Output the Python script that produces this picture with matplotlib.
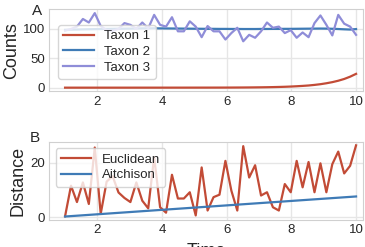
import numpy as np
import matplotlib
matplotlib.use('Agg')
import matplotlib.pyplot as plt

# sampling times
time = np.linspace(1, 10, 50)

taxon1 = [0.0, 0.0, 0.0, 0.0, 0.0, 0.0, 0.0, 0.01, 0.01, 0.01,
          0.01, 0.01, 0.02, 0.02, 0.02, 0.03, 0.03, 0.04, 0.04, 0.05,
          0.05, 0.06, 0.07, 0.08, 0.09, 0.1, 0.12, 0.15, 0.19, 0.24,
          0.3, 0.38, 0.48, 0.6, 0.75, 0.95, 1.2, 1.5, 1.9, 2.4,
          3.0, 3.7, 4.7, 5.9, 7.5, 9.4, 11.8, 14.8, 18.7, 23.5]
taxon2 = [98.5, 98.8, 99.0, 99.3, 99.5, 99.7, 99.9, 100.1, 100.2, 100.4,
          100.5, 100.6, 100.8, 101.0, 101.0, 101.1, 101.0, 100.9, 100.8, 100.7,
          100.6, 100.5, 100.4, 100.3, 100.2, 100.2, 100.1, 100.1, 100.0, 100.0,
          99.9, 99.9, 99.9, 100.0, 100.0, 100.1, 100.1, 100.2, 100.2, 100.3,
          100.4, 100.5, 100.6, 100.7, 100.6, 100.3, 99.9, 99.4, 99.0, 99.8]
taxon3 = [97, 100, 104, 117, 111, 127, 105, 98, 97, 100,
          110, 107, 100, 111, 101, 124, 107, 104, 120, 96,
          96, 113, 104, 86, 105, 96, 96, 82, 93, 102,
          79, 90, 85, 96, 111, 102, 104, 93, 98, 85,
          94, 86, 110, 123, 107, 89, 124, 109, 104, 90]

euclidean = [0.3, 11.5, 5.5, 12.7, 4.8, 25.5, 1.2, 13.0, 15.0, 9.0,
             7.0, 5.5, 12.7, 6.0, 3.2, 22.0, 3.6, 1.6, 15.5, 6.8,
             6.8, 9.1, 0.6, 18.2, 2.4, 7.3, 8.2, 20.6, 9.7, 2.4,
             26.0, 14.5, 19.0, 7.9, 9.1, 3.6, 2.4, 12.1, 9.1, 20.6,
             10.9, 20.2, 9.1, 19.7, 9.1, 19.4, 24.0, 16.0, 18.8, 26.3]
aitchison = [0.2, 0.35, 0.5, 0.65, 0.8, 0.95, 1.1, 1.25, 1.4, 1.55,
             1.7, 1.85, 2.0, 2.15, 2.3, 2.45, 2.6, 2.75, 2.9, 3.05,
             3.2, 3.35, 3.5, 3.65, 3.8, 3.95, 4.1, 4.25, 4.4, 4.55,
             4.7, 4.85, 5.0, 5.15, 5.3, 5.45, 5.6, 5.75, 5.9, 6.05,
             6.2, 6.35, 6.5, 6.65, 6.8, 6.95, 7.1, 7.25, 7.4, 7.55]

red = '#C24B36'
blue = '#3F7BB6'
purple = '#8F8DD8'

plt.rcParams['font.family'] = ['Liberation Sans', 'DejaVu Sans']
plt.rcParams['text.color'] = '.15'
plt.rcParams['axes.labelcolor'] = '.15'
plt.rcParams['xtick.color'] = '.15'
plt.rcParams['ytick.color'] = '.15'

fig = plt.figure(figsize=(3.65, 2.47), dpi=100)
ax1 = fig.add_axes([0.134, 0.630, 0.861, 0.332])
ax2 = fig.add_axes([0.134, 0.109, 0.861, 0.317])

ax1.plot(time, taxon1, color=red, lw=1.6, label='Taxon 1')
ax1.plot(time, taxon2, color=blue, lw=1.6, label='Taxon 2')
ax1.plot(time, taxon3, color=purple, lw=1.6, label='Taxon 3')
ax1.set_yticks([0, 50, 100])
ax1.set_ylabel('Counts', fontsize=13)
ax1.yaxis.set_label_coords(-0.092, 0.5)
ax1.legend(loc='upper left', bbox_to_anchor=(0.029, 0.81), borderaxespad=0,
           fontsize=9.5, labelspacing=0.25, handlelength=2.3)

ax2.plot(time, euclidean, color=red, lw=1.6, label='Euclidean')
ax2.plot(time, aitchison, color=blue, lw=1.6, label='Aitchison')
ax2.set_yticks([0, 20])
ax2.set_ylabel('Distance', fontsize=13)
ax2.yaxis.set_label_coords(-0.07, 0.5)
ax2.set_xlabel('Time', fontsize=13, labelpad=5)
ax2.legend(loc='upper left', fontsize=9.5, labelspacing=0.25, handlelength=2.3)

for ax in (ax1, ax2):
    ax.set_xlim(0.5, 10.22)
    ax.set_xticks([2, 4, 6, 8, 10])
    ax.grid(True, color='#E6E6E6', lw=1)
    ax.set_axisbelow(True)
    ax.tick_params(length=0, labelsize=9.5, pad=3)
    for s in ax.spines.values():
        s.set_color('#D0D0D0')

fig.text(0.115, 0.957, 'A', fontsize=11, ha='right', va='center')
fig.text(0.110, 0.441, 'B', fontsize=11, ha='right', va='center')

fig.savefig('out.png', dpi=100)
